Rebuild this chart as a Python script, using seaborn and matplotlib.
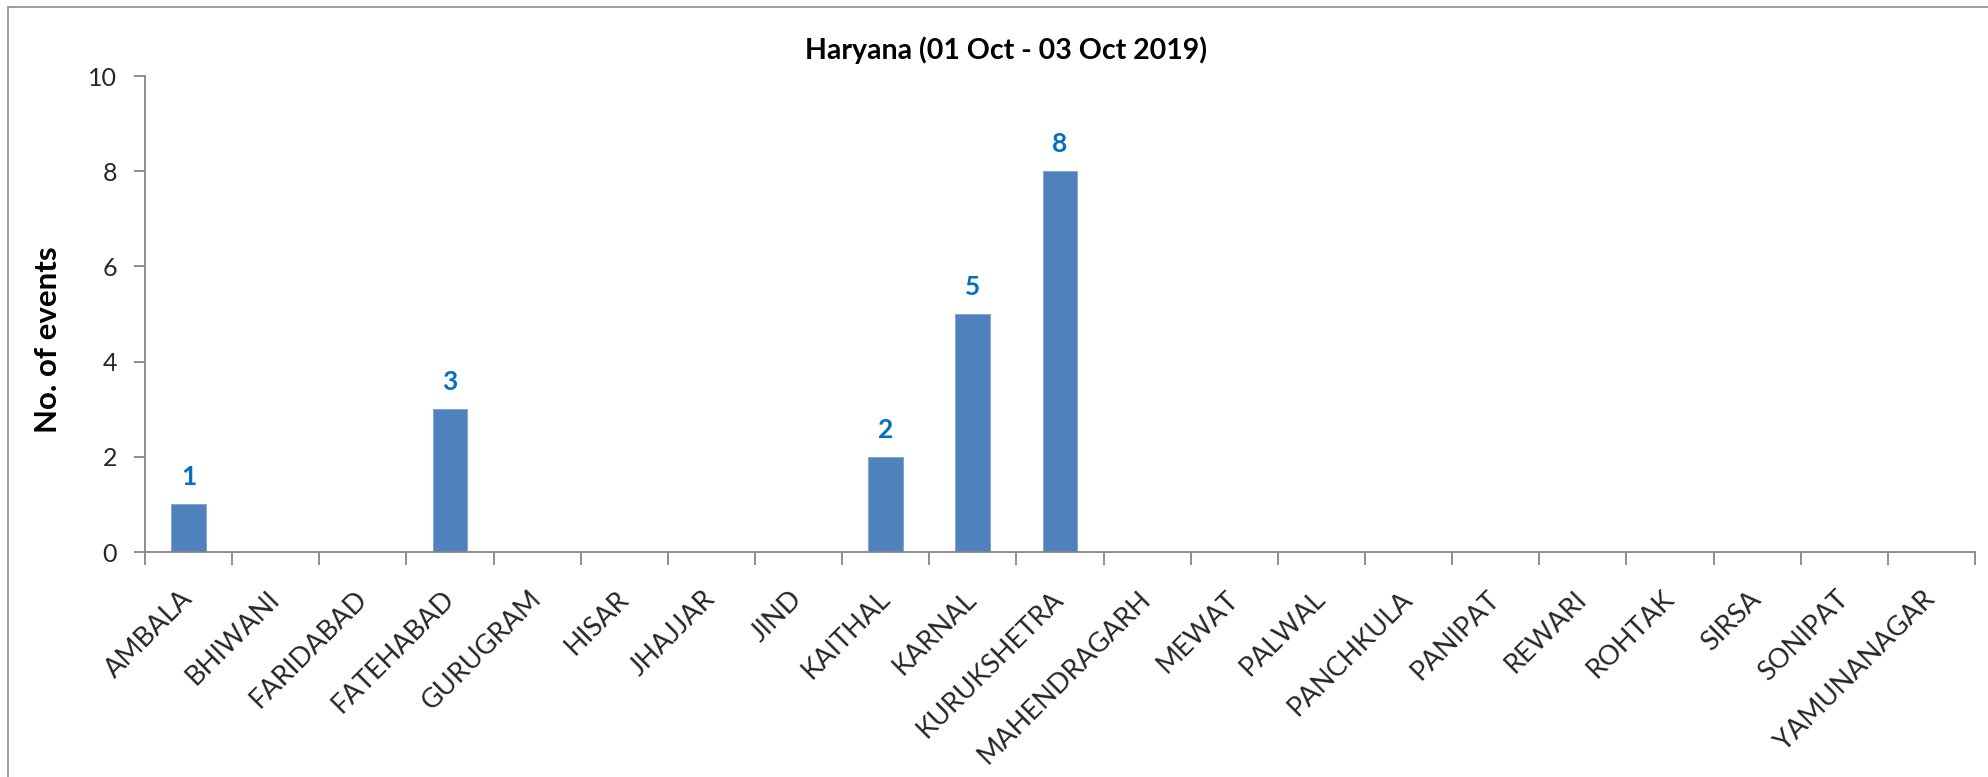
import matplotlib
matplotlib.use("Agg")
import matplotlib.pyplot as plt
import seaborn as sns
import pandas as pd
from matplotlib.patches import Rectangle

# ---- data ----
districts = ["AMBALA", "BHIWANI", "FARIDABAD", "FATEHABAD", "GURUGRAM", "HISAR",
             "JHAJJAR", "JIND", "KAITHAL", "KARNAL", "KURUKSHETRA", "MAHENDRAGARH",
             "MEWAT", "PALWAL", "PANCHKULA", "PANIPAT", "REWARI", "ROHTAK", "SIRSA",
             "SONIPAT", "YAMUNANAGAR"]
events = [1, 0, 0, 3, 0, 0, 0, 0, 2, 5, 8, 0, 0, 0, 0, 0, 0, 0, 0, 0, 0]
y_ticks = [0, 2, 4, 6, 8, 10]
title = "Haryana (01 Oct - 03 Oct 2019)"
y_label = "No. of events"

sns.set_style("white")
plt.rcParams["font.family"] = ["Lato", "DejaVu Sans"]

W, H = 1988, 777
fig = plt.figure(figsize=(W / 100, H / 100), dpi=100)
ax = fig.add_axes([145 / W, 1 - 552 / H, (1975 - 145) / W, (552 - 76) / H])

df = pd.DataFrame({"district": districts, "events": events})
sns.barplot(data=df, x="district", y="events", color="#4F81BD", width=0.4,
            saturation=1, edgecolor="#7DA0CF", linewidth=0.6, ax=ax)

axis_col = "#868686"
ax.set_xlim(-0.5, len(districts) - 0.5)
ax.set_ylim(0, 10)
ax.set_yticks(y_ticks)
ax.set_yticklabels([str(v) for v in y_ticks], fontsize=18)
ax.tick_params(axis="y", length=8, width=1.3, color=axis_col, pad=12, direction="out", left=True)

ax.set_xticks(range(len(districts)))
ax.set_xticklabels(districts, rotation=45, ha="right", va="center",
                   rotation_mode="anchor", fontsize=19.5)
ax.tick_params(axis="x", which="major", length=0, pad=31, bottom=True)
ax.set_xticks([i - 0.5 for i in range(len(districts) + 1)], minor=True)
ax.tick_params(axis="x", which="minor", length=9, width=1.3, color=axis_col, direction="out", bottom=True)

for s in ["top", "right"]:
    ax.spines[s].set_visible(False)
for s in ["left", "bottom"]:
    ax.spines[s].set_color(axis_col)
    ax.spines[s].set_linewidth(1.3)
ax.set_xlabel("")
ax.set_ylabel("")
ax.grid(False)

labels = [str(v) if v > 0 else "" for v in events]
ax.bar_label(ax.containers[0], labels=labels, padding=11, color="#0070C0",
             fontsize=19, fontweight="bold")

fig.text(1006 / W, 1 - 59 / H, title, ha="center", va="baseline",
         fontsize=20.5, fontweight="bold", color="black")
fig.text(48 / W, 1 - 340 / H, y_label, ha="center", va="center", rotation=90,
         fontsize=22.5, fontweight="bold", color="black")

border = Rectangle((8 / W, -0.05), 1.1, 1 - 7 / H + 0.05, transform=fig.transFigure,
                   fill=False, edgecolor="#8c8c8c", linewidth=1.2, clip_on=False)
fig.patches.append(border)

fig.savefig("out.png", dpi=100, facecolor="white")
